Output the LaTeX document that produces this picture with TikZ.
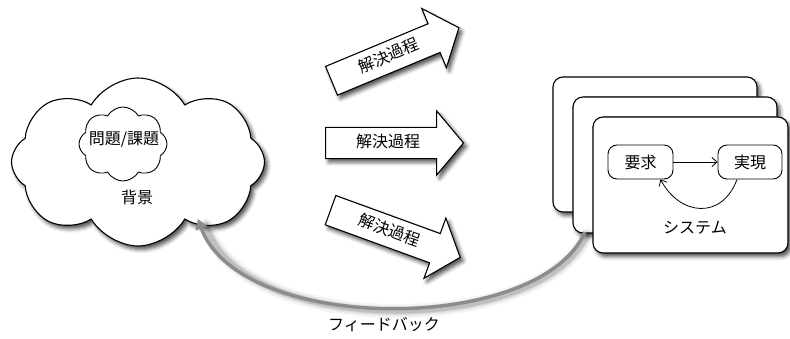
\documentclass[tikz,border=0pt]{standalone}
\usepackage{fontspec}
\setmainfont{Noto Sans CJK JP}
\usetikzlibrary{shapes.symbols,shapes.arrows,arrows.meta,shadows.blur,calc}
\begin{document}
\begin{tikzpicture}[x=1pt,y=1pt,
  every node/.style={font=\fontsize{16}{19}\selectfont},
  shade/.style={blur shadow={shadow xshift=3pt,shadow yshift=-3.5pt,shadow blur radius=4pt,shadow opacity=70}},
  cloudbox/.style={cloud,draw=black,line width=1.1pt,fill=white,inner sep=0pt},
  procarrow/.style={single arrow,draw=black,line width=1.1pt,fill=white,shade,
    minimum height=138pt,single arrow head extend=16.5pt,single arrow tip angle=100,
    text height=12pt,text depth=3pt,inner ysep=7.5pt,inner xsep=4pt,anchor=tail},
  sysbox/.style={draw=black,line width=1.1pt,fill=white,rounded corners=10pt,shade},
  statebox/.style={draw=black,line width=0.9pt,rounded corners=9pt,fill=white,inner sep=0pt},
  flow/.style={line width=0.8pt,-{Straight Barb[length=5pt,width=9pt]}},
  feedback/.style={draw=black!45,line width=3.5pt,-{Triangle[length=10pt,width=12pt]}},
  fbshadow/.style={draw=black,line cap=round}
]
\useasboundingbox (0,0) rectangle (790,338);

% background cloud
\node[cloudbox,shade,cloud puffs=8,cloud puff arc=120,minimum width=253pt,minimum height=168pt] (bigcloud) at (138,176) {};
\node[cloudbox,cloud puffs=8,cloud puff arc=120,minimum width=88pt,minimum height=74pt,line width=0.9pt] (problemcloud) at (123,194) {};
\node (problem) at (124,199) {問題/課題};
\node (bg) at (137,141) {背景};

% process arrows
\node[procarrow,rotate=22.6] (p1) at (331,257) {解決過程};
\node[procarrow] (p2) at (325,195) {解決過程};
\node[procarrow,rotate=-20] (p3) at (330,128) {解決過程};

% system stack
\draw[sysbox] (553,126) rectangle (757,261);
\draw[sysbox] (573,105) rectangle (777,241);
\draw[sysbox] (593,85) rectangle (788,221);
\coordinate (midcorner) at (585,106);

\node[statebox,minimum width=65pt,minimum height=34pt] (req) at (640.5,176) {要求};
\node[statebox,minimum width=64pt,minimum height=34pt] (impl) at (750,176) {実現};
\draw[flow] (req) -- (impl);
\draw[flow] ([xshift=-13pt]impl.south) .. controls (722,118) and (680,122) .. ([xshift=20pt]req.south);
\node (sys) at (695,110) {システム};

% feedback
\coordinate (fbend) at (198,119);
\foreach \w/\o in {14/0.04,10/0.06,7/0.08,5/0.1}{
  \draw[fbshadow,line width=\w pt,opacity=\o]
    ([shift={(2,-3)}]midcorner) .. controls (540,0) and (240,0) .. ([shift={(8,-6)}]fbend);
}
\draw[feedback] (midcorner) .. controls (540,3) and (240,3) .. (fbend);
\node (fb) at (384,13) {フィードバック};
\end{tikzpicture}
\end{document}
